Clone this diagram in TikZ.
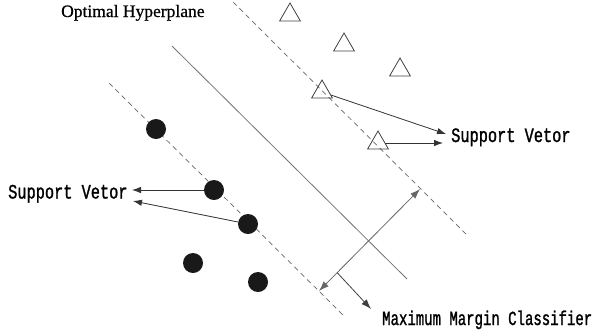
\documentclass[tikz,border=0pt]{standalone}
\usepackage{fontspec}
\setmainfont{Liberation Serif}
\newfontfamily\titlefont[FakeBold=0.6]{Liberation Serif}
\newfontfamily\svfont[FakeStretch=0.75,FakeBold=1.2]{Liberation Mono}
\newfontfamily\mmfont[FakeStretch=0.7,FakeBold=1.2]{Liberation Mono}
\usetikzlibrary{shapes.geometric,arrows.meta,calc}
\begin{document}
\begin{tikzpicture}[x=1pt,y=-1pt,
  tri/.style={draw=black!75, regular polygon, regular polygon sides=3, minimum size=24pt, inner sep=0pt, line width=0.8pt},
  dot/.style={circle, fill=black!90, minimum size=20pt, inner sep=0pt},
  margin/.style={draw=black!60, dash pattern=on 5pt off 4pt, line width=0.7pt},
  hyper/.style={draw=black!55, line width=0.8pt},
  pointer/.style={draw=black!80, line width=0.8pt, -{Latex[length=9pt,width=6.5pt]}},
  gap/.style={draw=black!60, line width=0.8pt},
  svtext/.style={inner sep=0pt, font=\svfont\fontsize{20.4}{22}\selectfont},
  mmtext/.style={inner sep=0pt, font=\mmfont\fontsize{20}{22}\selectfont},
  title/.style={inner sep=0pt, font=\titlefont\fontsize{17.5}{20}\selectfont}
]
\useasboundingbox (0,0) rectangle (593,333);

% margin and hyperplane lines
\coordinate (ua) at (233,2);   \coordinate (ub) at (467,235);
\coordinate (ha) at (172,46);  \coordinate (hb) at (407,279);
\coordinate (la) at (109,83);  \coordinate (lb) at (343,315);
\draw[margin] (ua) -- (ub);
\draw[hyper] (ha) -- (hb);
\draw[margin] (la) -- (lb);

% triangles
\node[tri] (t1) at (290,15) {};
\node[tri] (t2) at (344,45) {};
\node[tri] (t3) at (400,70) {};
\node[tri] (t4) at (322,92) {};
\node[tri] (t5) at (378,143) {};

% dots
\node[dot] (c1) at (156,129) {};
\node[dot] (c2) at (214,190) {};
\node[dot] (c3) at (248,224) {};
\node[dot] (c4) at (193,263) {};
\node[dot] (c5) at (258,282) {};

% labels
\node[title, anchor=base west] (opt) at (61,17) {Optimal Hyperplane};
\node[svtext, anchor=base west] (svr) at (451,142) {Support Vetor};
\node[svtext, anchor=base west] (svl) at (8,198.5) {Support Vetor};
\node[mmtext, anchor=base west] (mmc) at (382,325) {Maximum Margin Classifier};

% support vector pointers
\coordinate (e1) at (446,134);
\coordinate (e2) at (443,143);
\draw[pointer] (t4) -- (e1);
\draw[pointer] (t5) -- (e2);
\coordinate (l1) at (132,190);
\coordinate (l2) at (133,201);
\draw[pointer] (c2) -- (l1);
\draw[pointer] (c3) -- (l2);

% margin width arrow
\coordinate (m1) at (319,291);
\coordinate (m2) at (420,189);
\draw[gap, {Latex[length=10pt,width=7pt]}-{Latex[length=10pt,width=7pt]}] (m1) -- (m2);
\coordinate (mb) at ($(m1)!0.18!(m2)$);
\coordinate (me) at (371,309);
\draw[draw=black!75, line width=0.8pt, -{Latex[length=10pt,width=7pt]}] (mb) -- (me);
\end{tikzpicture}
\end{document}
